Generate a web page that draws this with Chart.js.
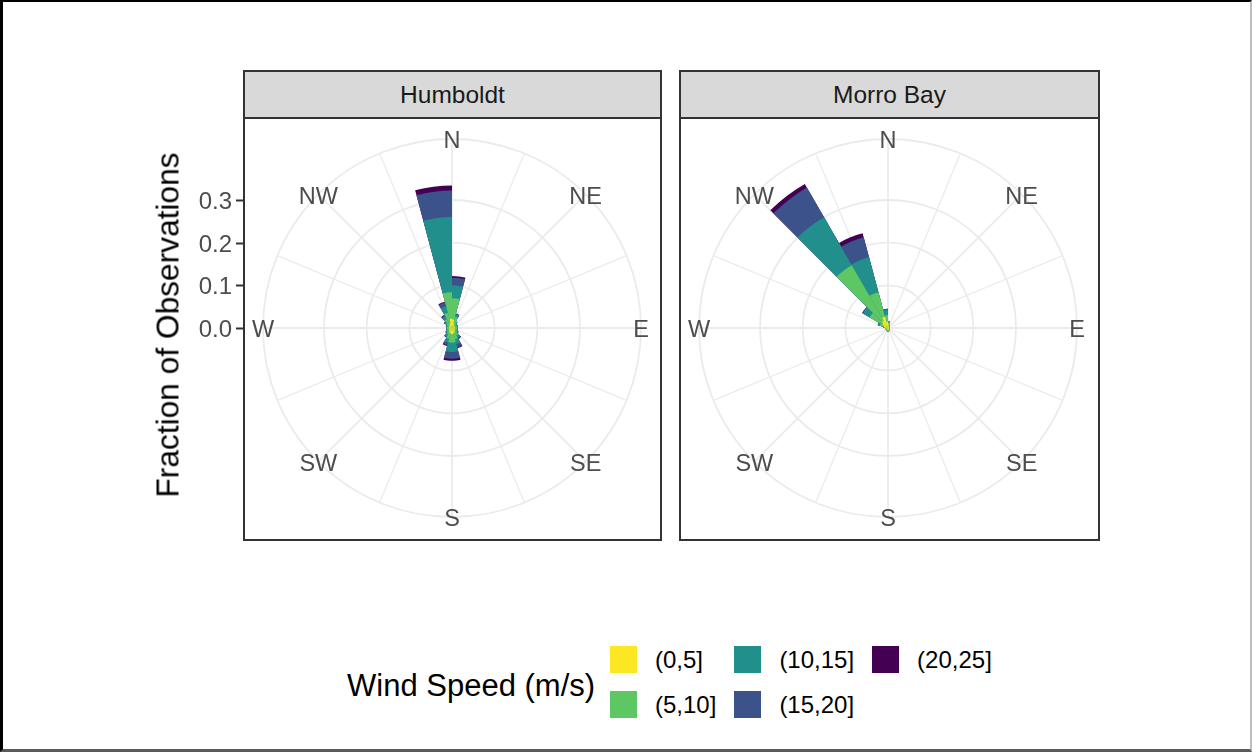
<!DOCTYPE html>
<html><head><meta charset="utf-8">
<script src="https://cdn.jsdelivr.net/npm/chart.js@4.4.1/dist/chart.umd.min.js"></script>
<style>
html,body{margin:0;padding:0;background:#fff;}
body{width:1252px;height:752px;position:relative;overflow:hidden;font-family:"Liberation Sans",Arial,Helvetica,sans-serif;}
#frame{position:absolute;left:0;top:0;width:1252px;height:752px;box-sizing:border-box;border-left:3px solid #000;border-top:2px solid #000;border-right:2px solid #bdbdbd;border-bottom:3px solid #5a5a5a;}
.panel{position:absolute;top:70px;height:471px;box-sizing:border-box;border:2px solid #333;background:#fff;}
.strip{height:47px;box-sizing:border-box;background:#D9D9D9;border-bottom:2px solid #333;display:flex;align-items:center;justify-content:center;font-size:24.5px;color:#1A1A1A;}
canvas{position:absolute;}
#ytitle{position:absolute;left:168px;top:325px;transform:translate(-50%,-50%) rotate(-90deg);font-size:31.7px;color:#000;white-space:nowrap;}
#ltitle{position:absolute;left:347px;top:686px;transform:translateY(-50%);font-size:31px;color:#000;white-space:nowrap;}
#legend{position:absolute;left:610px;top:646px;display:grid;grid-template-rows:27px 27px;row-gap:18px;column-gap:18px;grid-auto-flow:column;}
.item{display:flex;align-items:center;height:27px;}
.key{width:27px;height:27px;}
.lab{margin-left:18px;font-size:24px;color:#000;white-space:nowrap;line-height:27px;}
</style></head>
<body>
<div id="frame"></div>
<div class="panel" style="left:243px;width:419px;"><div class="strip" id="s1"></div></div>
<div class="panel" style="left:679px;width:421px;"><div class="strip" id="s2"></div></div>
<canvas id="c1" width="511" height="422" style="left:150px;top:118px;"></canvas>
<canvas id="c2" width="420" height="422" style="left:679px;top:118px;"></canvas>
<div id="ytitle">Fraction of Observations</div>
<div id="ltitle">Wind Speed (m/s)</div>
<div id="legend"></div>
<script>
// ---------------- data ----------------
const panels = ['Humboldt', 'Morro Bay'];
const speedClasses = ['(0,5]', '(5,10]', '(10,15]', '(15,20]', '(20,25]'];
const speedColors = ['#FDE725', '#5DC863', '#21908C', '#3B528B', '#440154'];
// 24 direction bins of 15 degrees, clockwise from north: [0,15), [15,30), ... [345,360)
const dirBins = ['0-15','15-30','30-45','45-60','60-75','75-90','90-105','105-120','120-135','135-150','150-165','165-180',
                 '180-195','195-210','210-225','225-240','240-255','255-270','270-285','285-300','300-315','315-330','330-345','345-360'];
// grid spokes (16) and compass labels
const spokes = ['N','NNE','NE','ENE','E','ESE','SE','SSE','S','SSW','SW','WSW','W','WNW','NW','NNW'];
const compassLabels = ['N','NE','E','SE','S','SW','W','NW'];
const rTicks = [0, 0.1, 0.2, 0.3];
const rOuter = 0.443;

// Humboldt: fraction of observations per bin for each speed class
const humboldt_0_5   = [0.020,0.012,0.008,0.007,0.007,0.007,0.007,0.007,0.008,0.010,0.012,0.014,0.014,0.012,0.010,0.008,0.007,0.007,0.007,0.007,0.008,0.010,0.012,0.022];
const humboldt_5_10  = [0.050,0.015,0.008,0.005,0.005,0.005,0.005,0.005,0.006,0.010,0.015,0.020,0.020,0.014,0.008,0.006,0.005,0.005,0.005,0.005,0.008,0.014,0.025,0.062];
const humboldt_10_15 = [0.030,0.006,0.002,0.002,0.002,0.002,0.002,0.002,0.003,0.006,0.012,0.022,0.022,0.010,0.005,0.003,0.002,0.002,0.002,0.002,0.004,0.008,0.016,0.176];
const humboldt_15_20 = [0.018,0.002,0.000,0.000,0.000,0.000,0.000,0.000,0.001,0.003,0.008,0.016,0.016,0.006,0.002,0.001,0.000,0.000,0.000,0.001,0.002,0.003,0.009,0.062];
const humboldt_20_25 = [0.004,0.000,0.000,0.000,0.000,0.000,0.000,0.000,0.000,0.001,0.002,0.005,0.005,0.002,0.001,0.000,0.000,0.000,0.000,0.000,0.000,0.001,0.002,0.012];

// Morro Bay
const morro_0_5   = [0.008,0.005,0.004,0.003,0.003,0.003,0.003,0.003,0.004,0.004,0.005,0.006,0.006,0.005,0.004,0.004,0.004,0.005,0.006,0.010,0.015,0.020,0.027,0.015];
const morro_5_10  = [0.006,0.002,0.001,0.001,0.001,0.001,0.001,0.001,0.001,0.002,0.002,0.002,0.002,0.002,0.002,0.002,0.002,0.002,0.004,0.010,0.035,0.150,0.060,0.015];
const morro_10_15 = [0.002,0.001,0.000,0.000,0.000,0.000,0.000,0.000,0.000,0.000,0.000,0.001,0.001,0.000,0.000,0.000,0.000,0.000,0.001,0.004,0.018,0.130,0.085,0.012];
const morro_15_20 = [0.000,0.000,0.000,0.000,0.000,0.000,0.000,0.000,0.000,0.000,0.000,0.000,0.000,0.000,0.000,0.000,0.000,0.000,0.000,0.001,0.002,0.080,0.048,0.003];
const morro_20_25 = [0.000,0.000,0.000,0.000,0.000,0.000,0.000,0.000,0.000,0.000,0.000,0.000,0.000,0.000,0.000,0.000,0.000,0.000,0.000,0.000,0.000,0.010,0.010,0.000];

const humboldtSeries = [humboldt_0_5, humboldt_5_10, humboldt_10_15, humboldt_15_20, humboldt_20_25];
const morroSeries = [morro_0_5, morro_5_10, morro_10_15, morro_15_20, morro_20_25];

// ---------------- html text ----------------
document.getElementById('s1').textContent = panels[0];
document.getElementById('s2').textContent = panels[1];
const leg = document.getElementById('legend');
speedClasses.forEach((name, i) => {
  const it = document.createElement('div'); it.className = 'item';
  const k = document.createElement('div'); k.className = 'key'; k.style.background = speedColors[i];
  const l = document.createElement('div'); l.className = 'lab'; l.textContent = name;
  it.appendChild(k); it.appendChild(l); leg.appendChild(it);
});

// ---------------- plugins ----------------
const FONT = '"Liberation Sans", Arial, Helvetica, sans-serif';
const compassPlugin = {
  id: 'compass',
  afterDraw(chart) {
    const s = chart.scales.r, ctx = chart.ctx;
    ctx.save();
    ctx.font = '23.5px ' + FONT;
    ctx.fillStyle = '#4D4D4D';
    ctx.textAlign = 'center';
    ctx.textBaseline = 'middle';
    spokes.forEach((name, i) => {
      if (!compassLabels.includes(name)) return;
      const p = s.getPointPosition(i, s.drawingArea);
      ctx.fillText(name, p.x, p.y + 3);
    });
    ctx.restore();
  }
};
const rAxisPlugin = {
  id: 'raxis',
  afterDraw(chart, args, opts) {
    if (!opts || !opts.show) return;
    const s = chart.scales.r, ctx = chart.ctx;
    const ax = opts.axisX;
    ctx.save();
    ctx.strokeStyle = '#333333';
    ctx.lineWidth = 2;
    ctx.font = '24px ' + FONT;
    ctx.fillStyle = '#4D4D4D';
    ctx.textAlign = 'right';
    ctx.textBaseline = 'middle';
    rTicks.forEach(v => {
      const y = Math.round(s.yCenter - s.getDistanceFromCenterForValue(v)) + 0.5;
      ctx.beginPath(); ctx.moveTo(ax - 7, y); ctx.lineTo(ax, y); ctx.stroke();
      ctx.fillText(v.toFixed(1), ax - 11, y + 2);
    });
    ctx.restore();
  }
};

function cumulative(series) {
  const out = [];
  let run = dirBins.map(() => 0);
  series.forEach(arr => { run = run.map((v, j) => v + arr[j]); out.push(run.slice()); });
  return out;
}

function makeChart(id, series, pad, axis) {
  const cum = cumulative(series);
  return new Chart(document.getElementById(id), {
    type: 'polarArea',
    data: {
      labels: spokes,
      datasets: cum.map((d, i) => ({
        label: speedClasses[i],
        data: d,
        backgroundColor: speedColors[i],
        borderWidth: 0
      }))
    },
    options: {
      responsive: false,
      animation: false,
      events: [],
      layout: { padding: pad },
      plugins: { legend: { display: false }, tooltip: { enabled: false }, raxis: axis },
      scales: {
        r: {
          min: 0, max: rOuter, bounds: 'data', startAngle: 0,
          afterBuildTicks: (sc) => { sc.ticks = rTicks.concat([rOuter]).map(v => ({ value: v })); },
          ticks: { display: false },
          pointLabels: { display: false },
          grid: { circular: true, color: '#EBEBEB', lineWidth: 1.8 },
          angleLines: { display: true, color: '#EBEBEB', lineWidth: (c) => (c.index % 2 === 0 ? 1.8 : 1.3) }
        }
      }
    },
    plugins: [compassPlugin, rAxisPlugin]
  });
}

makeChart('c1', humboldtSeries, { left: 113, right: 20, top: 20, bottom: 22 }, { show: true, axisX: 93 });
makeChart('c2', morroSeries, { left: 20, right: 22, top: 20, bottom: 22 }, { show: false });
</script>
</body></html>
